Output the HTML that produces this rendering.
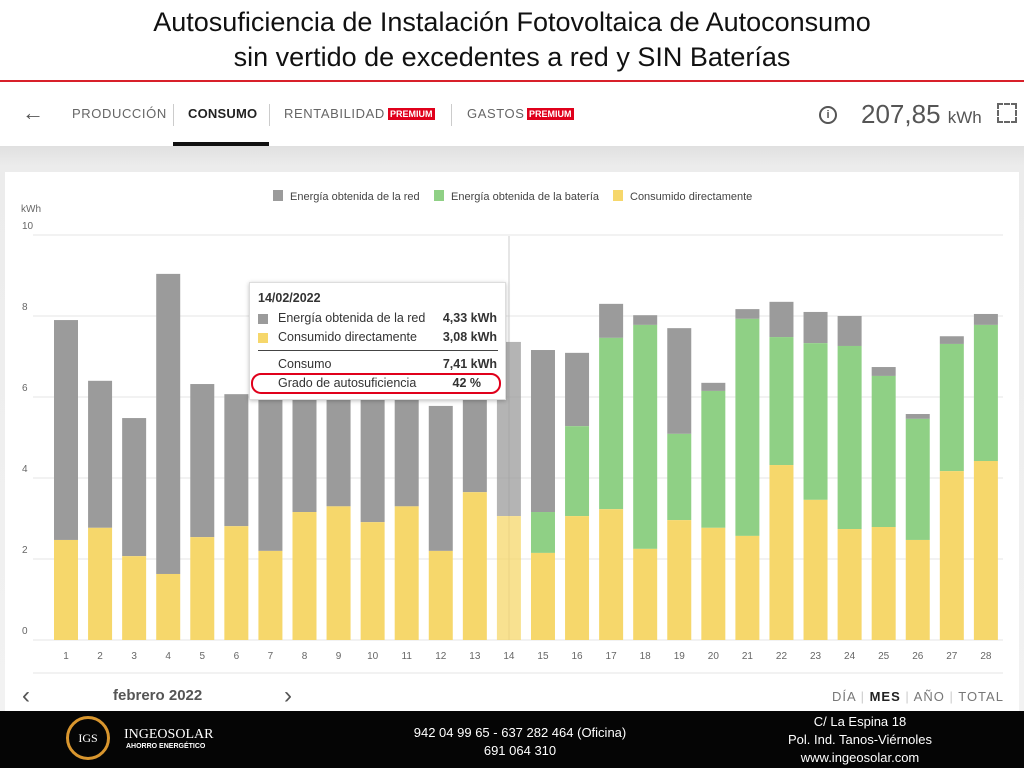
<!DOCTYPE html>
<html><head><meta charset="utf-8"><style>
body{margin:0;width:1024px;height:768px;overflow:hidden;background:#fff;font-family:"Liberation Sans",sans-serif;position:relative}
.a{position:absolute}
.t{left:0;width:1024px;text-align:center;font-size:27px;color:#111;line-height:34px}
.tab{font-size:13px;color:#666;letter-spacing:.6px;white-space:nowrap}
</style></head><body>
<div class="a t" style="top:5px">Autosuficiencia de Instalación Fotovoltaica de Autoconsumo</div>
<div class="a t" style="top:40px">sin vertido de excedentes a red y SIN Baterías</div>
<div class="a" style="top:80px;left:0;width:1024px;height:2px;background:#d8202a"></div>
<div class="a" style="top:146px;left:0;width:1024px;height:565px;background:linear-gradient(#e0e0e0,#ececec 20px,#f2f2f2)"></div>
<div class="a" style="top:172px;left:5px;width:1014px;height:539px;background:#fff"></div>
<div class="a" style="top:100px;left:22px;font-size:22px;color:#555">&#8592;</div>
<div class="a tab" style="top:106px;left:72px">PRODUCCIÓN</div>
<div class="a" style="top:104px;left:173px;width:1px;height:22px;background:#ccc"></div>
<div class="a tab" style="top:106px;left:188px;color:#222;font-weight:bold;letter-spacing:.2px">CONSUMO</div>
<div class="a" style="top:104px;left:269px;width:1px;height:22px;background:#ccc"></div>
<div class="a" style="top:142px;left:173px;width:96px;height:4px;background:#111"></div>
<div class="a tab" style="top:106px;left:284px">RENTABILIDAD</div>
<div class="a" style="top:108px;left:388px;background:#e0001b;color:#fff;font-size:9px;font-weight:bold;padding:1px 2px">PREMIUM</div>
<div class="a" style="top:104px;left:451px;width:1px;height:22px;background:#ccc"></div>
<div class="a tab" style="top:106px;left:467px">GASTOS</div>
<div class="a" style="top:108px;left:527px;background:#e0001b;color:#fff;font-size:9px;font-weight:bold;padding:1px 2px">PREMIUM</div>
<div class="a" style="top:106px;left:819px;width:14px;height:14px;border:2px solid #555;border-radius:50%;font-size:11px;text-align:center;line-height:14px;color:#555;font-weight:bold">i</div>
<div class="a" style="top:99px;left:861px;font-size:26px;color:#555">207,85 <span style="font-size:17px">kWh</span></div>
<div class="a" style="top:103px;left:997px;width:20px;height:20px;border:2px dashed #666;box-sizing:border-box"></div>
<svg class="a" style="top:0;left:0" width="1024" height="768" id="s"></svg>
<div class="a" style="top:282px;left:249px;width:255px;height:116px;background:#fff;border:1px solid #ddd;box-shadow:0 1px 4px rgba(0,0,0,.25);font-size:12.5px;color:#333">
<div class="a" style="top:8px;left:8px;font-weight:bold">14/02/2022</div>
<div class="a" style="top:31px;left:8px;width:10px;height:10px;background:#9b9b9b"></div>
<div class="a" style="top:28px;left:28px">Energía obtenida de la red</div><div class="a" style="top:28px;right:8px;font-weight:bold">4,33 kWh</div>
<div class="a" style="top:50px;left:8px;width:10px;height:10px;background:#f6d76b"></div>
<div class="a" style="top:47px;left:28px">Consumido directamente</div><div class="a" style="top:47px;right:8px;font-weight:bold">3,08 kWh</div>
<div class="a" style="top:67px;left:8px;width:240px;height:1px;background:#444"></div>
<div class="a" style="top:74px;left:28px">Consumo</div><div class="a" style="top:74px;right:8px;font-weight:bold">7,41 kWh</div>
<div class="a" style="top:93px;left:28px">Grado de autosuficiencia</div><div class="a" style="top:93px;right:24px;font-weight:bold">42 %</div>
<div class="a" style="top:90px;left:1px;width:246px;height:17px;border:2.5px solid #e0001b;border-radius:10px"></div>
</div>
<div class="a" style="top:684px;left:22px;font-size:24px;color:#555;line-height:24px">&#8249;</div>
<div class="a" style="top:687px;left:113px;font-size:15px;color:#555;font-weight:bold">febrero 2022</div>
<div class="a" style="top:684px;left:284px;font-size:24px;color:#555;line-height:24px">&#8250;</div>
<div class="a" style="top:689px;left:832px;font-size:13px;color:#777;letter-spacing:1px">DÍA <span style="color:#ccc">|</span> <b style="color:#222">MES</b> <span style="color:#ccc">|</span> AÑO <span style="color:#ccc">|</span> TOTAL</div>
<div class="a" style="top:711px;left:0;width:1024px;height:57px;background:#050505;color:#fff"></div>
<div class="a" style="top:716px;left:66px;width:44px;height:44px;border-radius:50%;border:3px solid #d9962e;box-sizing:border-box;color:#fff;font-family:'Liberation Serif',serif;font-size:12px;text-align:center;line-height:38px">IGS</div>
<div class="a" style="top:727px;left:124px;color:#fff;font-family:'Liberation Serif',serif;font-size:14px">INGEOSOLAR</div>
<div class="a" style="top:743px;left:126px;color:#fff;font-size:7px;font-weight:bold">AHORRO ENERGÉTICO</div>
<div class="a" style="top:724px;left:380px;width:280px;text-align:center;color:#fff;font-size:13px;line-height:18px">942 04 99 65 - 637 282 464 (Oficina)<br>691 064 310</div>
<div class="a" style="top:713px;left:770px;width:180px;text-align:center;color:#fff;font-size:13px;line-height:18px">C/ La Espina 18<br>Pol. Ind. Tanos-Viérnoles<br>www.ingeosolar.com</div>
<script>
(function(){
var y=[2.47,2.77,2.07,1.63,2.54,2.81,2.2,3.16,3.3,2.91,3.3,2.2,3.65,3.06,2.15,3.06,3.23,2.25,2.96,2.77,2.57,4.32,3.46,2.74,2.79,2.47,4.17,4.42];
var g=[0,0,0,0,0,0,0,0,0,0,0,0,0,0,3.16,5.28,7.46,7.78,5.09,6.15,7.93,7.48,7.33,7.26,6.52,5.46,7.31,7.78];
var t=[7.9,6.4,5.48,9.04,6.32,6.07,6.6,6.5,6.5,6.4,6.4,5.78,6.6,7.36,7.16,7.09,8.3,8.02,7.7,6.35,8.17,8.35,8.1,8.0,6.74,5.58,7.5,8.05];
var h='',Y=function(v){return 640-v*40.5;};
for(var k=0;k<=5;k++){var yy=Y(k*2);h+='<line x1="33" x2="1003" y1="'+yy+'" y2="'+yy+'" stroke="#e6e6e6"/><text x="22" y="'+(yy-6)+'" font-size="10" fill="#666">'+k*2+'</text>';}
h+='<line x1="509" x2="509" y1="236" y2="640" stroke="#ccc"/>';
h+='<text x="21" y="212" font-size="10" fill="#666">kWh</text>';
for(var i=0;i<28;i++){var c=66+i*34.07,x=c-12,op=i==13?' opacity="0.75"':'';
var tp=g[i]||y[i];
h+='<g'+op+'><rect x="'+x+'" y="'+Y(t[i])+'" width="24" height="'+(Y(tp)-Y(t[i]))+'" fill="#9b9b9b"/>';
if(g[i])h+='<rect x="'+x+'" y="'+Y(g[i])+'" width="24" height="'+(Y(y[i])-Y(g[i]))+'" fill="#8fd085"/>';
h+='<rect x="'+x+'" y="'+Y(y[i])+'" width="24" height="'+(640-Y(y[i]))+'" fill="#f6d76b"/></g>';
h+='<text x="'+c+'" y="659" font-size="10" fill="#666" text-anchor="middle">'+(i+1)+'</text>';}
h+='<line x1="33" x2="1003" y1="673" y2="673" stroke="#e6e6e6"/>';
var L=[[273,'#9b9b9b','Energía obtenida de la red'],[434,'#8fd085','Energía obtenida de la batería'],[613,'#f6d76b','Consumido directamente']];
L.forEach(function(l){h+='<rect x="'+l[0]+'" y="190" width="10" height="11" fill="'+l[1]+'"/><text x="'+(l[0]+17)+'" y="200" font-size="11" fill="#444">'+l[2]+'</text>';});
document.getElementById('s').innerHTML=h;
})();
</script>
</body></html>
